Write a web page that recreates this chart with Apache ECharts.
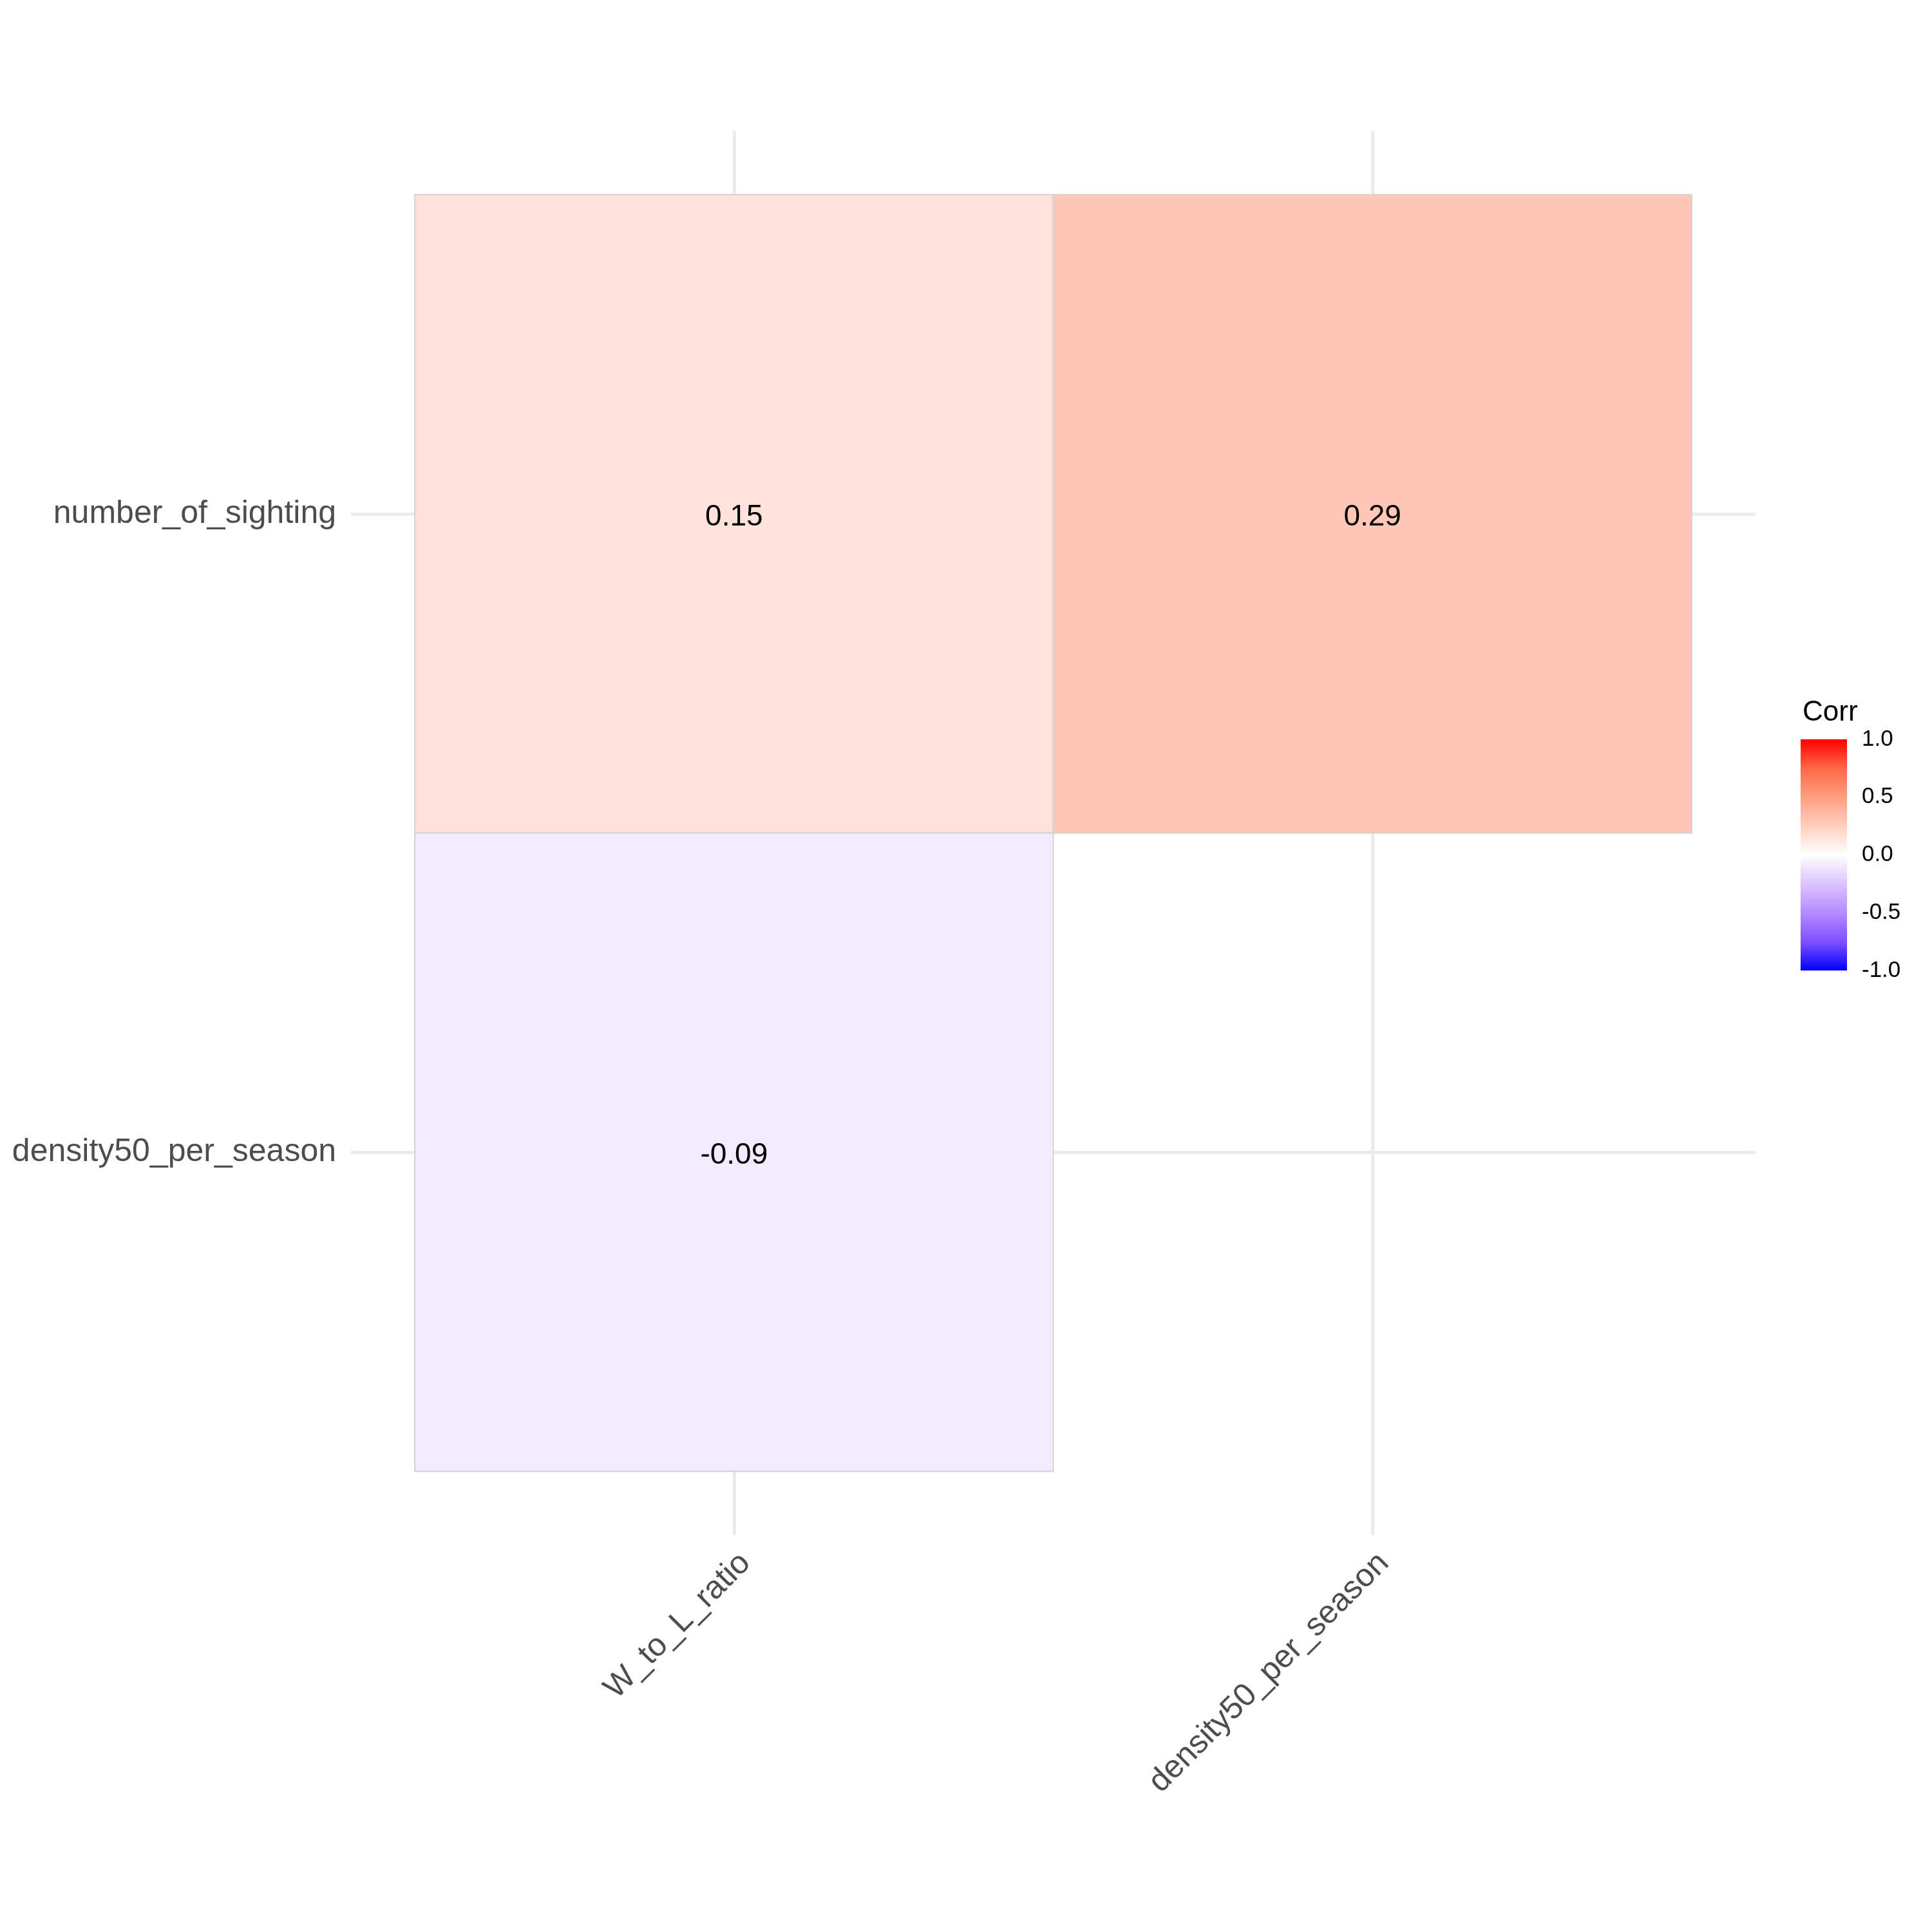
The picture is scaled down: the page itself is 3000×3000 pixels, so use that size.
<!DOCTYPE html>
<html>
<head>
<meta charset="utf-8">
<script src="https://cdn.jsdelivr.net/npm/echarts@6/dist/echarts.min.js"></script>
<style>html,body{margin:0;padding:0;background:#fff}#c{width:3000px;height:3000px}</style>
</head>
<body>
<div id="c"></div>
<script>
// ---- data ----
const xCategories = ['W_to_L_ratio', 'density50_per_season'];
const yCategories = ['density50_per_season', 'number_of_sighting']; // bottom -> top
// cells: [x index, y index, correlation]
const cellX = [0, 1, 0];
const cellY = [1, 1, 0];
const cellValues = [0.15, 0.29, -0.09];
const legendTicks = [-1.0, -0.5, 0.0, 0.5, 1.0];
const legendMin = -1, legendMax = 1;
// diverging palette (blue - white - red, Lab-interpolated stops every 0.25)
const paletteStops = ['#0000FF', '#7E51FF', '#B38BFF', '#DCC4FF', '#FFFFFF', '#FFCFBF', '#FF9E81', '#FF6846', '#FF0000'];

const FONT = 'Liberation Sans, Arial, sans-serif';
const cells = cellValues.map((v, i) => [cellX[i], cellY[i], v]);

const chart = echarts.init(document.getElementById('c'), null, {renderer: 'canvas'});

const isInt = v => Math.abs(v - Math.round(v)) < 1e-6;

const option = {
  animation: false,
  backgroundColor: '#ffffff',
  title: {
    text: 'Corr', left: 2794, top: 1080,
    textStyle: {fontFamily: FONT, fontSize: 44, fontWeight: 'normal', color: '#000'}
  },
  grid: [
    {left: 545, top: 203, width: 2181, height: 2181, containLabel: false},
    {left: 2796, top: 1148, width: 72, height: 359, containLabel: false}
  ],
  xAxis: [
    {
      type: 'value', gridIndex: 0, min: -0.6, max: 1.6, interval: 0.2,
      axisLine: {show: false}, axisTick: {show: false}, splitLine: {show: false},
      axisLabel: {
        rotate: 45, margin: 18, verticalAlign: 'top', fontSize: 50, fontFamily: FONT, color: '#4D4D4D',
        showMinLabel: true, showMaxLabel: true,
        formatter: v => (isInt(v) && v >= 0 && v < xCategories.length) ? xCategories[Math.round(v)] : ''
      }
    },
    {
      type: 'value', gridIndex: 1, min: 0, max: 1, show: false
    }
  ],
  yAxis: [
    {
      type: 'value', gridIndex: 0, min: -0.6, max: 1.6, interval: 0.2,
      axisLine: {show: false}, axisTick: {show: false}, splitLine: {show: false},
      axisLabel: {
        margin: 23, fontSize: 50, fontFamily: FONT, color: '#4D4D4D', padding: [10, 0, 0, 0],
        formatter: v => (isInt(v) && v >= 0 && v < yCategories.length) ? yCategories[Math.round(v)] : ''
      }
    },
    {
      type: 'value', gridIndex: 1, min: legendMin, max: legendMax, interval: 0.5, position: 'right',
      axisLine: {show: false}, splitLine: {show: false},
      axisTick: {show: true, inside: true, length: 15, lineStyle: {color: 'rgba(255,255,255,0.85)', width: 2}},
      axisLabel: {
        margin: 23, fontSize: 35, fontFamily: FONT, color: '#000',
        formatter: v => legendTicks.some(t => Math.abs(t - v) < 1e-6) ? v.toFixed(1) : ''
      }
    },
    {
      type: 'value', gridIndex: 1, min: legendMin, max: legendMax, interval: 0.5, position: 'left',
      axisLine: {show: false}, splitLine: {show: false}, axisLabel: {show: false},
      axisTick: {show: true, inside: true, length: 15, lineStyle: {color: 'rgba(255,255,255,0.85)', width: 2}}
    }
  ],
  visualMap: {
    type: 'continuous', show: false, min: legendMin, max: legendMax, dimension: 2,
    seriesIndex: 1, inRange: {color: paletteStops}
  },
  series: [
    {
      // panel grid lines at category positions
      type: 'line', xAxisIndex: 0, yAxisIndex: 0, data: [], z: 0, silent: true,
      markLine: {
        z: 0, zlevel: 0,
        silent: true, symbol: ['none', 'none'], animation: false,
        label: {show: false},
        lineStyle: {color: '#EBEBEB', width: 5, type: 'solid'},
        data: xCategories.map((c, i) => ({xAxis: i})).concat(yCategories.map((c, i) => ({yAxis: i})))
      }
    },
    {
      type: 'custom', xAxisIndex: 0, yAxisIndex: 0, z: 10,
      encode: {x: 0, y: 1},
      data: cells,
      renderItem: function (params, api) {
        const x = api.value(0), y = api.value(1), v = api.value(2);
        const p1 = api.coord([x - 0.5, y + 0.5]);
        const p2 = api.coord([x + 0.5, y - 0.5]);
        return {
          type: 'group',
          children: [
            {
              type: 'rect',
              shape: {x: p1[0], y: p1[1], width: p2[0] - p1[0], height: p2[1] - p1[1]},
              style: {fill: api.visual('color'), stroke: '#D3D3D3', lineWidth: 2}
            },
            {
              type: 'text',
              style: {
                text: v.toFixed(2), x: (p1[0] + p2[0]) / 2, y: (p1[1] + p2[1]) / 2 + 5,
                align: 'center', verticalAlign: 'middle',
                font: '46px ' + FONT, fill: '#000'
              }
            }
          ]
        };
      }
    },
    {
      // colour bar
      type: 'custom', xAxisIndex: 1, yAxisIndex: 1, z: 2, silent: true,
      data: [[0, legendMin]],
      renderItem: function (params, api) {
        const p1 = api.coord([0, legendMax]);
        const p2 = api.coord([1, legendMin]);
        const n = paletteStops.length;
        return {
          type: 'rect',
          shape: {x: p1[0], y: p1[1], width: p2[0] - p1[0], height: p2[1] - p1[1]},
          style: {
            fill: {
              type: 'linear', x: 0, y: 0, x2: 0, y2: 1,
              colorStops: paletteStops.slice().reverse().map((c, i) => ({offset: i / (n - 1), color: c}))
            }
          }
        };
      }
    }
  ]
};
chart.setOption(option);
</script>
</body>
</html>
